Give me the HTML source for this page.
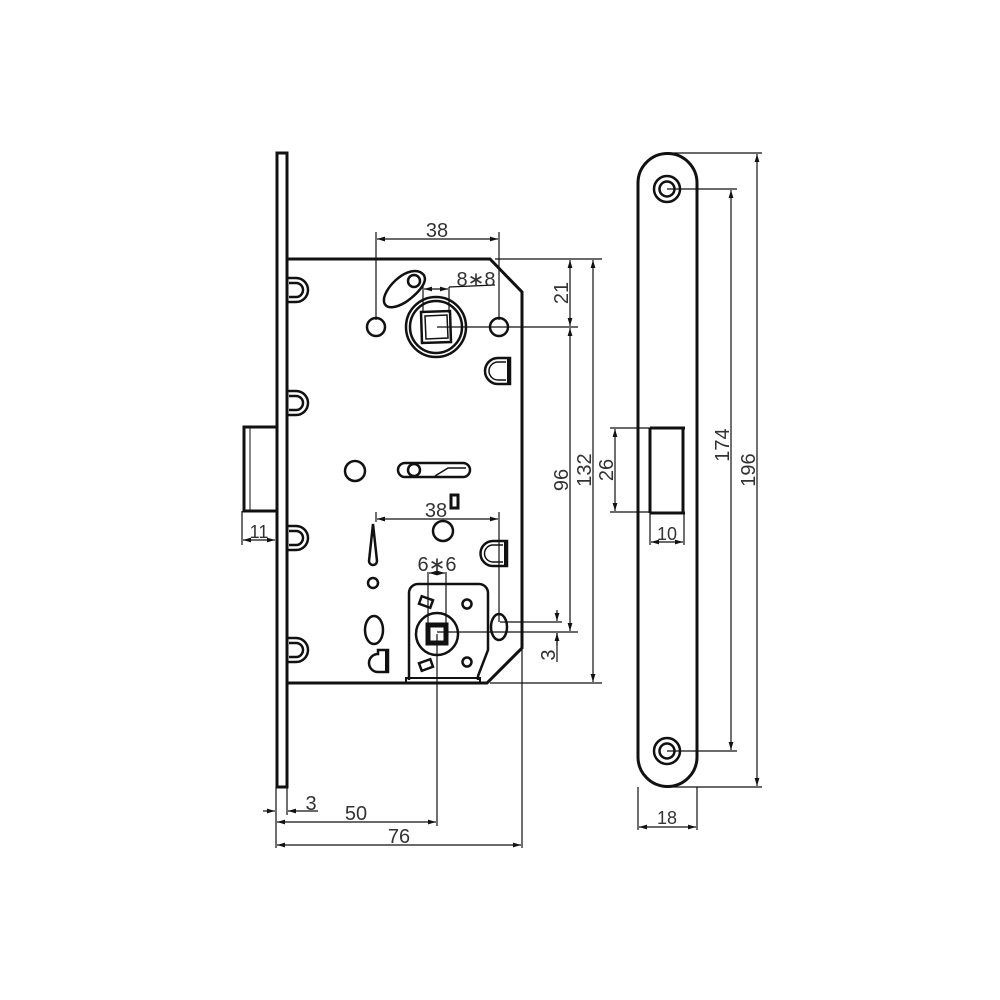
<!DOCTYPE html>
<html><head><style>html,body{margin:0;padding:0;background:#fff}svg{display:block}text{font-family:"Liberation Sans",sans-serif;font-size:20px;fill:#333}</style></head>
<body>
<svg width="1000" height="1000" viewBox="0 0 1000 1000" xmlns="http://www.w3.org/2000/svg">
<defs>
<marker id="a" viewBox="0 0 10 6" refX="10" refY="3" markerWidth="8" markerHeight="5" orient="auto-start-reverse" markerUnits="userSpaceOnUse"><path d="M0,0L10,3L0,6z" fill="#111"/></marker>
</defs>
<g fill="none" stroke="#111">
<rect x="277" y="153" width="10" height="634" stroke-width="3"/>
<path d="M276,427H244V511H276" stroke-width="3"/>
<line x1="250" y1="428" x2="250" y2="510" stroke-width="1"/>
<path d="M287,259H490L522,292V648L487,683H287" stroke-width="3"/>
<g stroke-width="2.5">
<path d="M288,278H296A12,12 0 0 1 296,302H288"/><path d="M289,283H296A7,7 0 0 1 296,297H289"/>
<path d="M288,391H296A12,12 0 0 1 296,415H288"/><path d="M289,396H296A7,7 0 0 1 296,410H289"/>
<path d="M288,526H296A12,12 0 0 1 296,550H288"/><path d="M289,531H296A7,7 0 0 1 296,545H289"/>
<path d="M288,638H296A12,12 0 0 1 296,662H288"/><path d="M289,643H296A7,7 0 0 1 296,657H289"/>
</g>
<g stroke-width="2.5">
<circle cx="376" cy="327" r="9"/><circle cx="499" cy="327" r="9"/>
<circle cx="436" cy="327" r="30"/><circle cx="436" cy="327" r="26"/>
<path d="M421,312L450,311L451,342L422,343Z"/><path d="M425,316L447,315L448,338L426,339Z" stroke-width="1.5"/>
<path d="M384,302C382,290 405,266 420,272C432,278 420,292 406,302C396,308 386,310 384,302Z"/>
<circle cx="414" cy="281" r="6"/>
<path d="M510,358H498A13,13 0 0 0 498,384H510Z"/><path d="M506,362H498A9,9 0 0 0 498,380H506" stroke-width="1.5"/>
<rect x="507" y="358" width="4" height="26" fill="#111" stroke="none"/>
</g>
<g stroke-width="2.5">
<circle cx="355" cy="471" r="10"/>
<rect x="398" y="463" width="72" height="14" rx="7"/>
<circle cx="414" cy="470" r="6"/>
<path d="M435,476L448,468H466" stroke-width="1.5"/>
<rect x="451" y="495" width="7" height="13" fill="#fff" stroke-width="3"/>
<circle cx="443" cy="531" r="10"/>
<path d="M369,561L373,524L377,561A4,4 0 0 1 369,561Z"/>
<circle cx="373" cy="583" r="5"/>
<path d="M507,541H493A12,12 0 0 0 493,566H507Z"/><path d="M503,545H493A8,8 0 0 0 493,562H503" stroke-width="1.5"/>
<rect x="504" y="541" width="4" height="25" fill="#111" stroke="none"/>
<path d="M409,680V593A9,9 0 0 1 418,584H479A9,9 0 0 1 488,593V650L478,676V680"/>
<path d="M406,683V678H480V683" stroke-width="2"/>
<circle cx="437" cy="634" r="21"/>
<rect x="428" y="625" width="18" height="18" stroke-width="5"/>
<circle cx="467" cy="604" r="4.5"/><circle cx="467" cy="662" r="4.5"/>
<rect x="420" y="598" width="12" height="8" transform="rotate(20 426 602)"/>
<rect x="420" y="661" width="12" height="8" transform="rotate(-20 426 665)"/>
<ellipse cx="499" cy="627" rx="8" ry="13"/>
<ellipse cx="374" cy="630" rx="9" ry="14"/>
<path d="M388,650H378V654A7,7 0 0 0 378,672H388Z"/>
<rect x="385" y="650" width="3" height="22" fill="#111" stroke="none"/>
</g>
<path d="M638,183A29.5,29.5 0 0 1 697,183V757A29.5,29.5 0 0 1 638,757Z" stroke-width="3"/>
<circle cx="667" cy="189" r="13" stroke-width="2.5"/><circle cx="667" cy="189" r="7.5" stroke-width="2.5"/>
<circle cx="667" cy="751" r="13" stroke-width="2.5"/><circle cx="667" cy="751" r="7.5" stroke-width="2.5"/>
<path d="M650,428H685M650,513H685" stroke-width="3"/>
<path d="M650,428V513M683,428V513" stroke-width="3"/>
<g stroke-width="1.2">
<line x1="376" y1="232" x2="376" y2="320"/><line x1="499" y1="232" x2="499" y2="320"/>
<line x1="377" y1="239" x2="498" y2="239" marker-start="url(#a)" marker-end="url(#a)"/>
<line x1="376" y1="512" x2="376" y2="522"/><line x1="499" y1="512" x2="499" y2="622"/>
<line x1="377" y1="519" x2="498" y2="519" marker-start="url(#a)" marker-end="url(#a)"/>
<line x1="423" y1="286" x2="423" y2="313"/><line x1="449" y1="287" x2="449" y2="313"/>
<line x1="424" y1="289" x2="448" y2="289" marker-start="url(#a)" marker-end="url(#a)"/>
<line x1="449" y1="287" x2="495" y2="285"/>
<line x1="428" y1="572" x2="428" y2="625"/><line x1="446" y1="572" x2="446" y2="625"/>
<line x1="429" y1="573" x2="445" y2="573" marker-start="url(#a)" marker-end="url(#a)"/>
<line x1="495" y1="259" x2="602" y2="259"/>
<line x1="437" y1="327" x2="578" y2="327"/>
<line x1="437" y1="632" x2="578" y2="632"/>
<line x1="500" y1="622" x2="562" y2="622"/>
<line x1="490" y1="683" x2="602" y2="683"/>
<line x1="570" y1="260" x2="570" y2="326" marker-start="url(#a)" marker-end="url(#a)"/>
<line x1="570" y1="328" x2="570" y2="631" marker-start="url(#a)" marker-end="url(#a)"/>
<line x1="593" y1="260" x2="593" y2="682" marker-start="url(#a)" marker-end="url(#a)"/>
<line x1="557" y1="610" x2="557" y2="621" marker-end="url(#a)"/>
<line x1="557" y1="645" x2="557" y2="633" marker-end="url(#a)"/>
<line x1="557" y1="633" x2="557" y2="662"/>
<line x1="437" y1="634" x2="437" y2="826"/>
<line x1="522" y1="650" x2="522" y2="848"/>
<line x1="276" y1="787" x2="276" y2="848"/>
<line x1="287" y1="787" x2="287" y2="815"/>
<line x1="263" y1="811" x2="275" y2="811" marker-end="url(#a)"/>
<line x1="318" y1="811" x2="288" y2="811" marker-end="url(#a)"/>
<line x1="277" y1="822" x2="436" y2="822" marker-start="url(#a)" marker-end="url(#a)"/>
<line x1="277" y1="845" x2="521" y2="845" marker-start="url(#a)" marker-end="url(#a)"/>
<line x1="242" y1="511" x2="242" y2="545"/>
<line x1="243" y1="540" x2="275" y2="540" marker-start="url(#a)" marker-end="url(#a)"/>
<line x1="610" y1="428" x2="650" y2="428"/><line x1="610" y1="512" x2="650" y2="512"/>
<line x1="615" y1="429" x2="615" y2="511" marker-start="url(#a)" marker-end="url(#a)"/>
<line x1="650" y1="513" x2="650" y2="545"/><line x1="684" y1="513" x2="684" y2="545"/>
<line x1="651" y1="542" x2="683" y2="542" marker-start="url(#a)" marker-end="url(#a)"/>
<line x1="667" y1="189" x2="737" y2="189"/><line x1="667" y1="751" x2="737" y2="751"/>
<line x1="731" y1="190" x2="731" y2="750" marker-start="url(#a)" marker-end="url(#a)"/>
<line x1="667" y1="153" x2="762" y2="153"/><line x1="667" y1="787" x2="762" y2="787"/>
<line x1="757" y1="154" x2="757" y2="786" marker-start="url(#a)" marker-end="url(#a)"/>
<line x1="638" y1="787" x2="638" y2="830"/><line x1="697" y1="787" x2="697" y2="830"/>
<line x1="639" y1="827" x2="696" y2="827" marker-start="url(#a)" marker-end="url(#a)"/>
</g>
</g>
<text x="437" y="237" text-anchor="middle">38</text>
<text x="476" y="286" text-anchor="middle">8∗8</text>
<text x="436" y="517" text-anchor="middle">38</text>
<text x="437" y="571" text-anchor="middle">6∗6</text>
<text transform="translate(568,293) rotate(-90)" text-anchor="middle">21</text>
<text transform="translate(568,480) rotate(-90)" text-anchor="middle">96</text>
<text transform="translate(591,470) rotate(-90)" text-anchor="middle">132</text>
<text transform="translate(555,655) rotate(-90)" text-anchor="middle">3</text>
<text x="259" y="538" text-anchor="middle" style="font-size:18px">11</text>
<text x="311" y="810" text-anchor="middle">3</text>
<text x="356" y="820" text-anchor="middle">50</text>
<text x="399" y="843" text-anchor="middle">76</text>
<text transform="translate(613,470) rotate(-90)" text-anchor="middle">26</text>
<text x="667" y="540" text-anchor="middle" style="font-size:18px">10</text>
<text transform="translate(729,445) rotate(-90)" text-anchor="middle">174</text>
<text transform="translate(755,470) rotate(-90)" text-anchor="middle">196</text>
<text x="667" y="824" text-anchor="middle" style="font-size:18px">18</text>
</svg>
</body></html>
